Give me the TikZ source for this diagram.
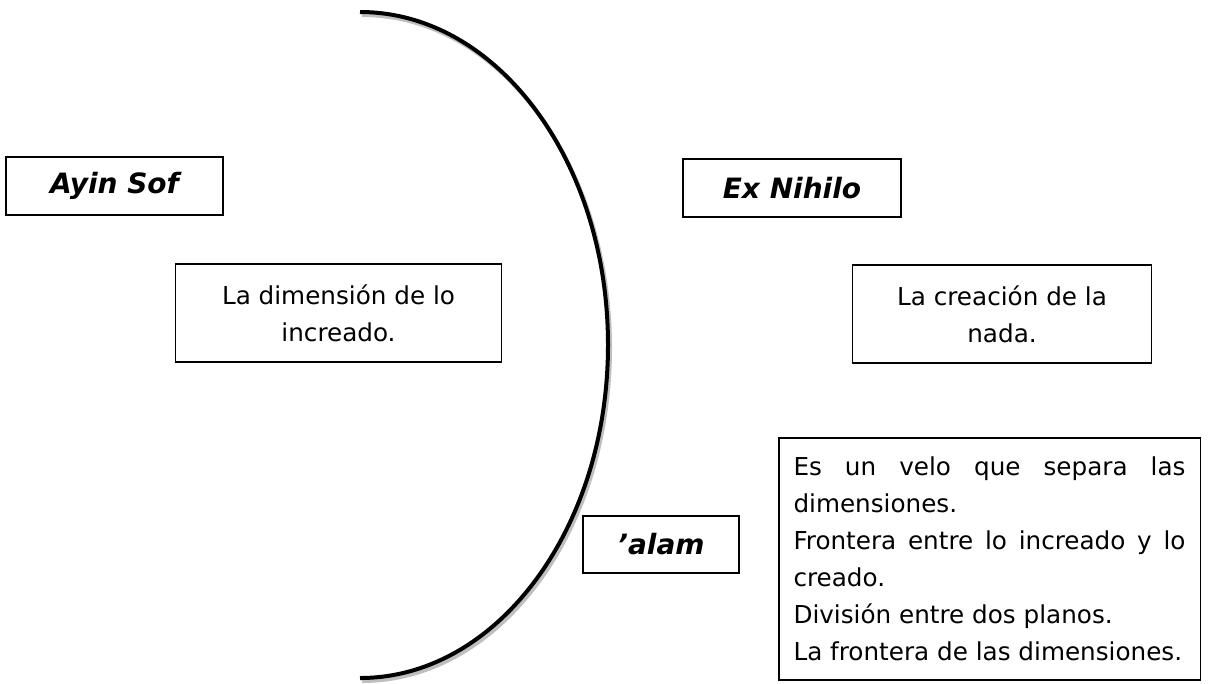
\documentclass[tikz,border=0pt]{standalone}
\usepackage{fontspec}
\setmainfont{DejaVu Sans}

\begin{document}
\begin{tikzpicture}[x=0.75pt, y=-0.75pt,
        name box/.style={draw, line width=0.8pt, inner sep=0pt,
            font=\fontsize{21}{25}\selectfont\bfseries\itshape},
        text box/.style={draw, line width=0.8pt, inner sep=0pt, align=center,
            font=\fontsize{18.5}{27.75}\selectfont}]
    \useasboundingbox (0,0) rectangle (1209,683);

    % the veil
    \draw[black!25, line width=3pt] (362,15) arc[start angle=90, end angle=-90, x radius=186pt, y radius=249.75pt];
    \draw[line width=3pt] (360,12) arc[start angle=90, end angle=-90, x radius=186pt, y radius=249.75pt];

    \node[name box, minimum width=162.75pt, minimum height=43.5pt] (ayin) at (114.5,186) {Ayin Sof};
    \node[name box, minimum width=163.5pt, minimum height=43.5pt] (nihilo) at (792,188) {Ex Nihilo};
    \node[name box, minimum width=117pt, minimum height=42.75pt] (alam) at (661,544.5) {'alam};

    \node[text box, minimum width=244pt, minimum height=73.5pt] (increado) at (338.5,313) {La dimensión de lo\\increado.};
    \node[text box, minimum width=224pt, minimum height=73.5pt] (nada) at (1002,314) {La creación de la\\nada.};

    \node[draw, line width=0.8pt, minimum height=181.5pt, text width=294pt, inner xsep=10.9pt,
        align=justify, font=\fontsize{18.5}{27.75}\selectfont] (velo) at (989.5,559)
        {Es un velo que separa las\linebreak dimensiones.\par
         Frontera entre lo increado y lo\linebreak creado.\par
         División entre dos planos.\par
         La frontera de las dimensiones.};
\end{tikzpicture}
\end{document}
